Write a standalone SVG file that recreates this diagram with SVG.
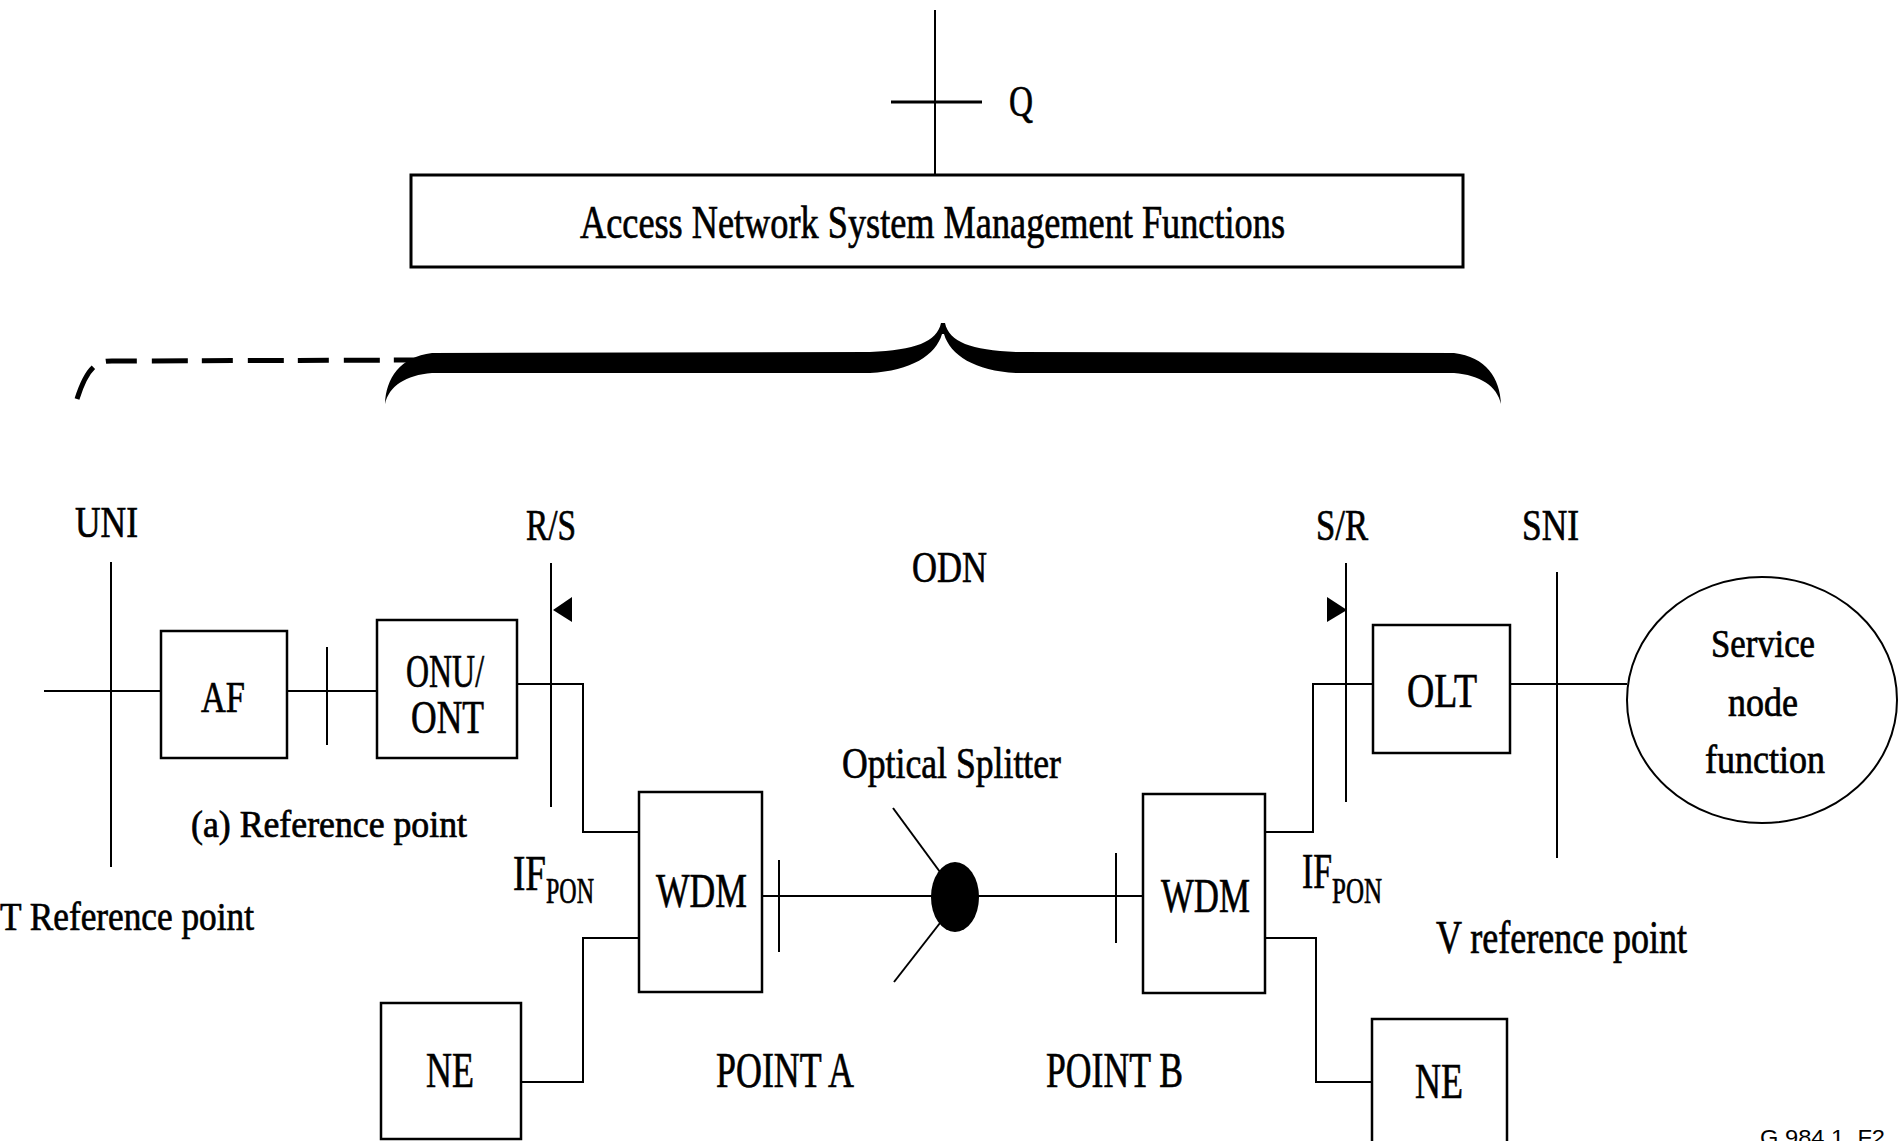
<svg xmlns="http://www.w3.org/2000/svg" width="1899" height="1141" viewBox="0 0 1899 1141">
<style>
.ln{stroke:#000;stroke-width:2;fill:none}
.bx{stroke:#000;stroke-width:2.5;fill:#fff}
.t{font-family:"Liberation Serif","Times New Roman",serif;fill:#000;stroke:#000;stroke-width:0.7}
.s{font-family:"Liberation Sans",Arial,sans-serif;fill:#000}
</style>
<rect x="0" y="0" width="1899" height="1141" fill="#fff"/>

<g id="connectors">
  <line class="ln" x1="935" y1="10" x2="935" y2="175"/>
  <line class="ln" x1="891" y1="102" x2="982" y2="102" style="stroke-width:3"/>
  <line class="ln" x1="111" y1="562" x2="111" y2="867"/>
  <line class="ln" x1="44" y1="691" x2="161" y2="691"/>
  <line class="ln" x1="287" y1="691" x2="377" y2="691"/>
  <line class="ln" x1="327" y1="647" x2="327" y2="745"/>
  <line class="ln" x1="551" y1="563" x2="551" y2="807"/>
  <polygon points="553,610 572,597 572,622" fill="#000"/>
  <path class="ln" d="M517,684 H583 V832 H639"/>
  <path class="ln" d="M521,1082 H583 V938 H639"/>
  <line class="ln" x1="762" y1="896" x2="1143" y2="896"/>
  <line class="ln" x1="779" y1="860" x2="779" y2="952"/>
  <line class="ln" x1="1116" y1="853" x2="1116" y2="943"/>
  <path class="ln" d="M1265,832 H1313 V684 H1373"/>
  <path class="ln" d="M1265,938 H1316 V1082 H1372"/>
  <line class="ln" x1="1346" y1="563" x2="1346" y2="802"/>
  <polygon points="1327,597 1327,622 1347,610" fill="#000"/>
  <line class="ln" x1="1510" y1="684" x2="1627" y2="684"/>
  <line class="ln" x1="1557" y1="572" x2="1557" y2="858"/>
  <path d="M77,399 C83,380 90,367 100,363 C104,361 108,361 112,361 L432,360" fill="none" stroke="#000" stroke-width="5" stroke-dasharray="36,14,31,15"/>
  <path fill="#000" d="M385,404 C386,378 400,357 432,353 L870,352 C915,350 937,342 941,323 L945,323 C949,342 971,350 1016,352 L1454,353 C1486,357 1500,378 1501,404 C1497,386 1480,375 1454,373 L1016,373 C975,371 950,355 944,334 L942,334 C936,355 911,371 870,373 L432,373 C406,375 389,386 385,404 Z"/>
</g>

<g id="q-label"><text class="t" x="1009" y="116" font-size="45" textLength="24" lengthAdjust="spacingAndGlyphs">Q</text></g>

<g id="mgmt">
  <rect class="bx" x="411" y="175" width="1052" height="92" style="stroke-width:3"/>
  <text class="t" x="580" y="238" font-size="47" textLength="705" lengthAdjust="spacingAndGlyphs">Access Network System Management Functions</text>
</g>

<g id="uni-label"><text class="t" x="75" y="537" font-size="45" textLength="63" lengthAdjust="spacingAndGlyphs">UNI</text></g>
<g id="rs-label"><text class="t" x="526" y="540" font-size="45" textLength="50" lengthAdjust="spacingAndGlyphs">R/S</text></g>
<g id="sr-label"><text class="t" x="1316" y="540" font-size="45" textLength="52" lengthAdjust="spacingAndGlyphs">S/R</text></g>
<g id="sni-label"><text class="t" x="1522" y="540" font-size="45" textLength="57" lengthAdjust="spacingAndGlyphs">SNI</text></g>
<g id="odn-label"><text class="t" x="912" y="582" font-size="45" textLength="75" lengthAdjust="spacingAndGlyphs">ODN</text></g>

<g id="af">
  <rect class="bx" x="161" y="631" width="126" height="127"/>
  <text class="t" x="201" y="712" font-size="45" textLength="44" lengthAdjust="spacingAndGlyphs">AF</text>
</g>

<g id="onu">
  <rect class="bx" x="377" y="620" width="140" height="138"/>
  <text class="t" x="406" y="687" font-size="47" textLength="78" lengthAdjust="spacingAndGlyphs">ONU/</text>
  <text class="t" x="411" y="733" font-size="47" textLength="73" lengthAdjust="spacingAndGlyphs">ONT</text>
</g>

<g id="olt">
  <rect class="bx" x="1373" y="625" width="137" height="128"/>
  <text class="t" x="1407" y="707" font-size="48" textLength="70" lengthAdjust="spacingAndGlyphs">OLT</text>
</g>

<g id="service-node">
  <ellipse cx="1762" cy="700" rx="135" ry="123" fill="#fff" stroke="#000" stroke-width="2"/>
  <text class="t" x="1711" y="657" font-size="39" textLength="104" lengthAdjust="spacingAndGlyphs">Service</text>
  <text class="t" x="1728" y="716" font-size="39" textLength="70" lengthAdjust="spacingAndGlyphs">node</text>
  <text class="t" x="1705" y="773" font-size="39" textLength="120" lengthAdjust="spacingAndGlyphs">function</text>
</g>

<g id="a-ref"><text class="t" x="191" y="837" font-size="37" textLength="276" lengthAdjust="spacingAndGlyphs">(a) Reference point</text></g>
<g id="t-ref"><text class="t" x="0" y="930" font-size="41" textLength="254" lengthAdjust="spacingAndGlyphs">T Reference point</text></g>
<g id="v-ref"><text class="t" x="1436" y="953" font-size="46" textLength="251" lengthAdjust="spacingAndGlyphs">V reference point</text></g>

<g id="ifpon-left"><text class="t"><tspan x="513" y="890" font-size="50" textLength="33" lengthAdjust="spacingAndGlyphs">IF</tspan><tspan x="546" y="903" font-size="36" textLength="48" lengthAdjust="spacingAndGlyphs">PON</tspan></text></g>
<g id="ifpon-right"><text class="t"><tspan x="1302" y="888" font-size="50" textLength="30" lengthAdjust="spacingAndGlyphs">IF</tspan><tspan x="1332" y="903" font-size="36" textLength="50" lengthAdjust="spacingAndGlyphs">PON</tspan></text></g>

<g id="wdm-left">
  <rect class="bx" x="639" y="792" width="123" height="200"/>
  <text class="t" x="656" y="907" font-size="48" textLength="91" lengthAdjust="spacingAndGlyphs">WDM</text>
</g>

<g id="splitter">
  <line class="ln" x1="893" y1="808" x2="940" y2="872"/>
  <line class="ln" x1="940" y1="923" x2="894" y2="982"/>
  <ellipse cx="955" cy="897" rx="24" ry="35" fill="#000"/>
  <text class="t" x="842" y="778" font-size="45" textLength="219" lengthAdjust="spacingAndGlyphs">Optical Splitter</text>
</g>

<g id="wdm-right">
  <rect class="bx" x="1143" y="794" width="122" height="199"/>
  <text class="t" x="1161" y="912" font-size="48" textLength="89" lengthAdjust="spacingAndGlyphs">WDM</text>
</g>

<g id="ne-left">
  <rect class="bx" x="381" y="1003" width="140" height="136"/>
  <text class="t" x="426" y="1087" font-size="50" textLength="48" lengthAdjust="spacingAndGlyphs">NE</text>
</g>

<g id="ne-right">
  <rect class="bx" x="1372" y="1019" width="135" height="140"/>
  <text class="t" x="1415" y="1098" font-size="50" textLength="48" lengthAdjust="spacingAndGlyphs">NE</text>
</g>

<g id="point-a"><text class="t" x="716" y="1087" font-size="50" textLength="138" lengthAdjust="spacingAndGlyphs">POINT A</text></g>
<g id="point-b"><text class="t" x="1046" y="1087" font-size="50" textLength="137" lengthAdjust="spacingAndGlyphs">POINT B</text></g>

<g id="fig-id"><text class="s" x="1760" y="1145" font-size="22" textLength="125" lengthAdjust="spacingAndGlyphs">G.984.1_F2</text></g>
</svg>
